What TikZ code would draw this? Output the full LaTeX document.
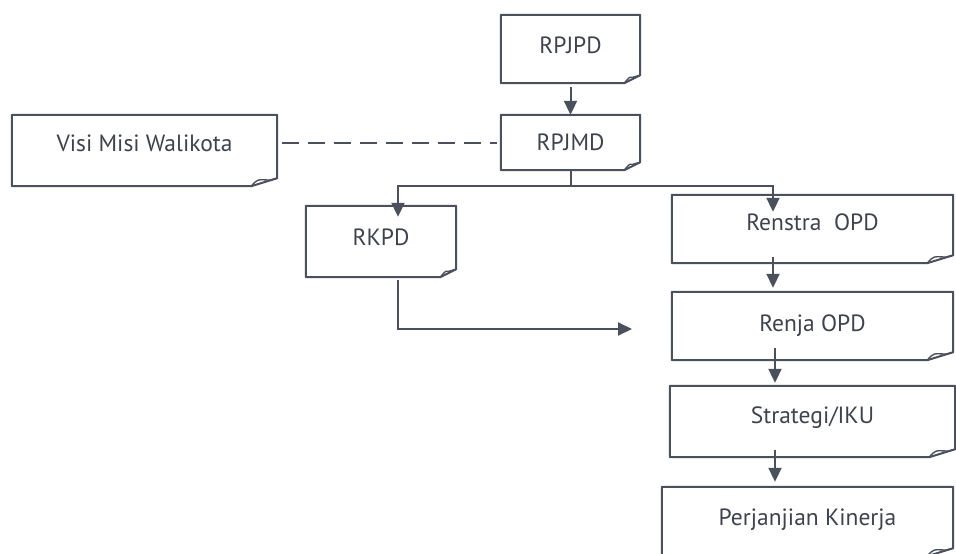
\documentclass[tikz,border=0pt]{standalone}
\usepackage{fontspec}
\setmainfont{PT Sans}
\usetikzlibrary{arrows.meta}
\definecolor{linec}{HTML}{4A505C}
\definecolor{textc}{HTML}{3D424C}
\tikzset{
  docbox/.style={draw=none, inner sep=0pt, text=textc, font=\fontsize{23.5}{26}\selectfont,
    text height=16pt, text depth=8pt},
  boxline/.style={draw=linec, line width=2pt, line join=round},
  conn/.style={draw=linec, line width=2pt, -{Triangle[length=14pt,width=13pt]}},
  dashconn/.style={draw=linec, line width=2pt, dash pattern=on 17pt off 9pt},
}
\newcommand\docshape[2]{%
  \draw[boxline] (#1.north west) -- (#1.north east) -- ([yshift=8pt]#1.south east)
    -- ([xshift=-#2]#1.south east) -- (#1.south west) -- cycle;
  \draw[boxline, line width=1.4pt] ([xshift=-#2]#1.south east)
    .. controls ([xshift=-#2+6pt,yshift=7pt]#1.south east) .. ([xshift=-7pt,yshift=6pt]#1.south east)
    -- ([yshift=8pt]#1.south east);
}
\begin{document}
\begin{tikzpicture}[x=1pt,y=-1pt]
\useasboundingbox (0,0) rectangle (956,554);
\node[docbox, minimum width=139pt, minimum height=68pt] (rpjpd) at (570.5,49) {RPJPD};
\node[docbox, minimum width=139pt, minimum height=55pt, text depth=1pt] (rpjmd) at (570.5,142.5) {RPJMD};
\node[docbox, minimum width=265pt, minimum height=71pt, text depth=14pt] (visi) at (144.5,150.5) {Visi Misi Walikota};
\node[docbox, minimum width=150pt, minimum height=71pt] (rkpd) at (381,241.5) {RKPD};
\node[docbox, minimum width=281pt, minimum height=68pt, text depth=14pt] (renstra) at (812.5,229) {Renstra\ \ OPD};
\node[docbox, minimum width=281pt, minimum height=68pt, text depth=6pt] (renja) at (812.5,326) {Renja OPD};
\node[docbox, minimum width=285pt, minimum height=71pt, text depth=13pt] (strategi) at (812.5,421.5) {Strategi/IKU};
\node[docbox, minimum width=291pt, minimum height=69pt] (perjanjian) at (807.5,521.5) {Perjanjian Kinerja};
\docshape{rpjpd}{16pt}
\docshape{rpjmd}{16pt}
\docshape{visi}{26pt}
\docshape{rkpd}{16pt}
\docshape{renstra}{26pt}
\docshape{renja}{26pt}
\docshape{strategi}{26pt}
\docshape{perjanjian}{26pt}
\coordinate (rkpdend) at (632,329);
% connectors
\draw[conn, shorten <=4pt] (rpjpd.south) -- (rpjmd.north);
\draw[dashconn, shorten <=5pt, shorten >=4pt] (rpjmd.west -| visi.east) -- (rpjmd.west);
\draw[conn] (rpjmd.south) -- ++(0,16) -| ([xshift=17pt,yshift=-11pt]rkpd.north);
\draw[conn] (rpjmd.south) -- ++(0,16) -| ([xshift=-39.5pt,yshift=-17pt]renstra.north);
\draw[conn] ([xshift=-39.5pt,yshift=6pt]renstra.south) -- ([xshift=-39.5pt,yshift=4pt]renja.north);
\draw[conn] ([xshift=-37.5pt,yshift=12pt]renja.south) -- ([xshift=-37.5pt,yshift=3pt]strategi.north);
\draw[conn] ([xshift=-37.5pt,yshift=7pt]strategi.south) -- ([xshift=-32.5pt,yshift=5pt]perjanjian.north);
\draw[conn] ([xshift=17pt,yshift=-3pt]rkpd.south) |- (rkpdend);
\end{tikzpicture}
\end{document}
